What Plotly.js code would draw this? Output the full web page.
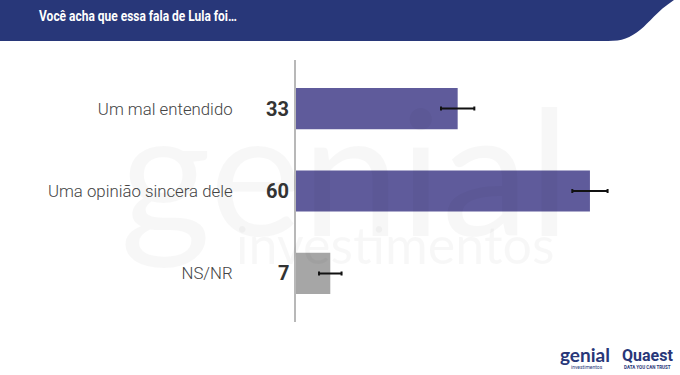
<!DOCTYPE html>
<html>
<head>
<meta charset="utf-8">
<script src="https://cdn.plot.ly/plotly-3.0.1.min.js"></script>
<style>html,body{margin:0;padding:0;background:#fff;}#chart{width:680px;height:375px;}</style>
</head>
<body>
<div id="chart"></div>
<script>
const categories = ["Um mal entendido", "Uma opinião sincera dele", "NS/NR"];
const values = [33, 60, 7];
const errors = [3.4, 3.6, 2.3];
const barColors = ["#5f5b9b", "#5f5b9b", "#a6a6a6"];
const titleText = "Você acha que essa fala de Lula foi…";

const W = 680, H = 375;
const M = {l: 296, r: 20, t: 60, b: 53};
const pw = W - M.l - M.r, ph = H - M.t - M.b;
const px = x => (x - M.l) / pw;
const py = y => (H - M.b - y) / ph;

function P(x, y) { return px(x).toFixed(5) + "," + py(y).toFixed(5); }
const headerPath = "M" + P(0, 0) + " L" + P(674, 0) +
  " C" + P(656, 12) + " " + P(650, 22) + " " + P(640, 30) +
  " C" + P(630, 38) + " " + P(622, 41) + " " + P(608, 41) +
  " L" + P(0, 41) + " Z";

const trace = {
  type: "bar",
  orientation: "h",
  y: categories,
  x: values,
  marker: {color: barColors},
  width: 0.5,
  error_x: {type: "data", array: errors, visible: true, color: "#111", thickness: 2, width: 2},
  hoverinfo: "none"
};

const annotations = [
  {xref: "paper", yref: "paper", x: px(345), y: py(168), text: "genial", showarrow: false,
   xanchor: "center", yanchor: "middle", font: {family: "Lato", size: 175, color: "rgba(0,0,0,0.03)"}},
  {xref: "paper", yref: "paper", x: px(395), y: py(244), text: "investimentos", showarrow: false,
   xanchor: "center", yanchor: "middle", font: {family: "Lato", size: 52, color: "rgba(0,0,0,0.03)"}}
];

values.forEach((v, i) => annotations.push({
  x: 0, y: categories[i], xref: "x", yref: "y",
  text: "<b>" + v + "</b>", showarrow: false,
  xanchor: "right", yanchor: "middle", xshift: -5,
  font: {family: "Roboto", size: 20, color: "#333"}
}));

annotations.push(
  {xref: "paper", yref: "paper", x: px(37), y: py(16), text: "<b>" + titleText + "</b>", showarrow: false,
   xanchor: "left", yanchor: "middle", font: {family: "Roboto", size: 15, color: "#fff"}},
  {xref: "paper", yref: "paper", x: px(585), y: py(354), text: "<b>genial</b>", showarrow: false,
   xanchor: "center", yanchor: "middle", font: {family: "Lato", size: 19, color: "#283779"}},
  {xref: "paper", yref: "paper", x: px(587), y: py(367), text: "investimentos", showarrow: false,
   xanchor: "center", yanchor: "middle", font: {family: "Roboto", size: 5, color: "#283779"}},
  {xref: "paper", yref: "paper", x: px(647), y: py(355), text: "<b>Quaest</b>", showarrow: false,
   xanchor: "center", yanchor: "middle", font: {family: "Roboto", size: 16, color: "#283779"}},
  {xref: "paper", yref: "paper", x: px(647), y: py(367), text: "<b>DATA YOU CAN TRUST</b>", showarrow: false,
   xanchor: "center", yanchor: "middle", font: {family: "Roboto", size: 4.5, color: "#283779"}}
);

const layout = {
  width: W, height: H,
  margin: M,
  paper_bgcolor: "#fff", plot_bgcolor: "rgba(0,0,0,0)",
  showlegend: false,
  xaxis: {range: [0, 74.3], visible: false, fixedrange: true},
  yaxis: {
    type: "category", range: [2.59, -0.59], showgrid: false, zeroline: false,
    showline: true, linecolor: "#b8b8b8", linewidth: 2, ticks: "",
    ticklabelstandoff: 58,
    tickfont: {family: "Roboto", size: 16.8, color: "#444", weight: 300}
  },
  shapes: [
    {type: "path", xref: "paper", yref: "paper", path: headerPath,
     fillcolor: "#283779", line: {width: 0}, layer: "below"}
  ],
  annotations: annotations
};

Plotly.newPlot("chart", [trace], layout, {staticPlot: true, displayModeBar: false}).then(gd => {
  // condensed look for the header title (the original uses a condensed face)
  gd.querySelectorAll("text.annotation-text").forEach(t => {
    if (t.textContent.indexOf("Você") === 0) {
      const bb = t.getBBox();
      const k = 198 / bb.width;
      const x0 = bb.x;
      t.setAttribute("transform", "translate(" + x0 + ",0) scale(" + k + ",1) translate(" + (-x0) + ",0)");
    }
  });
});
</script>
</body>
</html>
